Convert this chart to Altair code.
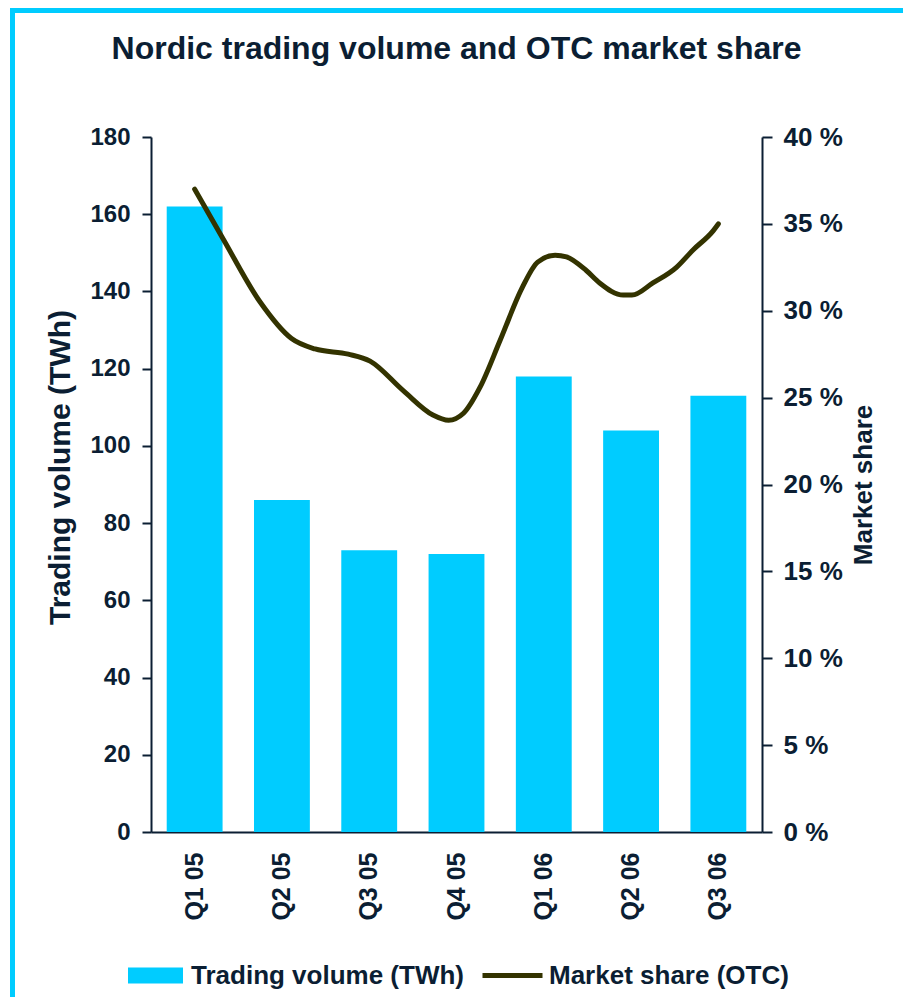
import altair as alt
import pandas as pd

# ---- data ----
quarters = ["Q1 05", "Q2 05", "Q3 05", "Q4 05", "Q1 06", "Q2 06", "Q3 06"]
volume_twh = [162, 86, 73, 72, 118, 104, 113]

# market share (OTC); position in quarter index
share_pos = [0.0, 0.33, 0.75, 1.11, 1.38, 1.76, 2.01, 2.39, 2.73, 2.91, 3.08, 3.27,
             3.50, 3.75, 3.93, 4.13, 4.26, 4.49, 4.64, 4.91, 5.01, 5.25, 5.52, 5.71,
             5.94, 6.0]
share_pct = [37.0, 34.1, 30.5, 28.4, 27.8, 27.5, 27.1, 25.4, 24.0, 23.7, 24.1, 25.6,
             28.3, 31.3, 32.8, 33.2, 33.1, 32.3, 31.6, 30.9, 30.9, 31.6, 32.5, 33.5,
             34.6, 35.0]

left_ticks = [0, 20, 40, 60, 80, 100, 120, 140, 160, 180]
right_ticks = [0, 5, 10, 15, 20, 25, 30, 35, 40]

bar_name = "Trading volume (TWh)"
line_name = "Market share (OTC)"

NAVY = "#0B1E33"
CYAN = "#00CCFF"
OLIVE = "#333300"
FONT = "Liberation Sans"

df_bar = pd.DataFrame({"quarter": quarters, "volume": volume_twh, "series": bar_name})
df_line = pd.DataFrame({"t": share_pos, "share": share_pct, "series": line_name})

bars = alt.Chart(df_bar).mark_bar().encode(
    x=alt.X("quarter:N", sort=quarters,
            scale=alt.Scale(paddingInner=0.36, paddingOuter=0.18),
            axis=alt.Axis(title=None, labelAngle=270, labelFontSize=25,
                          labelPadding=20, ticks=False, domainWidth=2,
                          domainColor=NAVY)),
    y=alt.Y("volume:Q", scale=alt.Scale(domain=[0, 180], nice=False),
            axis=alt.Axis(orient="left", values=left_ticks, grid=False,
                          title="Trading volume (TWh)", titleFontSize=30,
                          titlePadding=14, titleY=330,
                          labelFontSize=24, labelPadding=12,
                          tickSize=9, tickWidth=2, domainWidth=2,
                          domainColor=NAVY, tickColor=NAVY)),
    fill=alt.Fill("series:N",
                  scale=alt.Scale(domain=[bar_name], range=[CYAN]),
                  legend=alt.Legend(title=None, orient="none", legendX=-23,
                                    legendY=811, direction="horizontal",
                                    symbolType="M-1,-0.29H1V0.29H-1Z",
                                    symbolSize=3025, symbolStrokeWidth=0,
                                    labelOffset=8, labelFontSize=26)),
)

line = alt.Chart(df_line).mark_line(strokeWidth=5, interpolate="monotone",
                                    strokeCap="round").encode(
    x=alt.X("t:Q", scale=alt.Scale(domain=[-0.5, 6.5], nice=False, zero=False),
            axis=None),
    y=alt.Y("share:Q", scale=alt.Scale(domain=[0, 40], nice=False),
            axis=alt.Axis(orient="right", values=right_ticks, grid=False,
                          labelExpr="datum.value + ' %'",
                          title="Market share", titleFontSize=26, titleAngle=270,
                          titlePadding=34, labelFontSize=26, labelPadding=11,
                          tickSize=10, tickWidth=2, domainWidth=2,
                          domainColor=NAVY, tickColor=NAVY)),
    stroke=alt.Stroke("series:N",
                      scale=alt.Scale(domain=[line_name], range=[OLIVE]),
                      legend=alt.Legend(title=None, orient="none", legendX=329,
                                        legendY=806, direction="horizontal",
                                        symbolType="stroke", symbolSize=3600,
                                        symbolStrokeWidth=5, labelOffset=4,
                                        labelFontSize=26)),
)

frame_df = pd.DataFrame({"k": [0]})
left_border = alt.Chart(frame_df).mark_rule(color=CYAN, strokeWidth=5).encode(
    x=alt.value(-138.5), y=alt.value(-129), y2=alt.value(860))
top_border = alt.Chart(frame_df).mark_rule(color=CYAN, strokeWidth=5).encode(
    x=alt.value(-141), x2=alt.value(752), y=alt.value(-126.5))

chart = alt.layer(bars, line, left_border, top_border).resolve_scale(
    x="independent", y="independent", fill="independent", stroke="independent"
).properties(
    width=611, height=695,
    title=alt.Title("Nordic trading volume and OTC market share",
                    fontSize=32, font=FONT, fontWeight="bold", color=NAVY,
                    anchor="middle", offset=0, dy=60),
    padding={"left": 143, "top": 129, "right": 141, "bottom": 165},
    autosize=alt.AutoSizeParams(type="none"),
).configure_axis(
    labelFont=FONT, labelFontWeight="bold", labelColor=NAVY,
    titleFont=FONT, titleFontWeight="bold", titleColor=NAVY,
).configure_legend(
    labelFont=FONT, labelFontWeight="bold", labelColor=NAVY, padding=0,
    labelLimit=0,
).configure_view(stroke=None)

chart.save("out.html", embed_options={"renderer": "svg", "actions": False})
